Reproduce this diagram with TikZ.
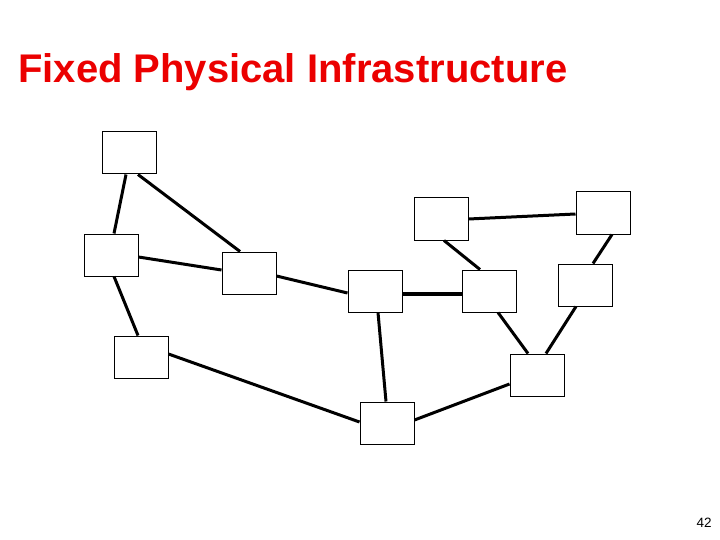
\documentclass[tikz,border=0pt]{standalone}
\usepackage{fontspec}
\setmainfont{Liberation Sans}
\definecolor{titlered}{RGB}{235,0,0}
\begin{document}
\begin{tikzpicture}[x=1pt,y=-1pt,
  box/.style={draw=black,line width=1pt,fill=white,minimum width=54pt,minimum height=42pt,inner sep=0pt},
  link/.style={line width=3pt,black}]
\useasboundingbox (0,0) rectangle (720,540);
\node[anchor=base west,inner sep=0pt,text=titlered,font=\bfseries\fontsize{40}{48}\selectfont] (title) at (18,83) {Fixed Physical Infrastructure};
\node[anchor=base,inner sep=0pt,font=\fontsize{13.5}{16}\selectfont] (pg) at (704,527) {42};
\node[box] (n1) at (129,153) {};
\node[box] (n2) at (111,255) {};
\node[box] (n3) at (249,273) {};
\node[box] (n4) at (141,357) {};
\node[box] (n5) at (375,291) {};
\node[box] (n6) at (441,219) {};
\node[box] (n7) at (489,291) {};
\node[box] (n8) at (603,213) {};
\node[box] (n9) at (585,285) {};
\node[box] (n10) at (537,375) {};
\node[box] (n11) at (387,423) {};
\draw[link] ([xshift=-3pt]n1.south) -- ([xshift=3pt]n2.north);
\draw[link] ([xshift=9pt]n1.south) -- ([xshift=-9pt]n3.north);
\draw[link] ([yshift=-2pt]n2.east) -- ([yshift=3pt]n3.west);
\draw[link] ([xshift=3pt]n2.south) -- ([xshift=-3pt]n4.north);
\draw[link] ([yshift=-3pt]n3.east) -- ([yshift=-2pt]n5.west);
\draw[link,line width=4pt] ([yshift=-3pt]n5.east) -- ([yshift=-3pt]n7.west);
\draw[link] ([xshift=3pt]n5.south) -- ([xshift=-1pt]n11.north);
\draw[link] ([yshift=3pt]n4.east) -- ([yshift=1pt]n11.west);
\draw[link] ([xshift=3pt]n6.south) -- ([xshift=-9pt]n7.north);
\draw[link] (n6.east) -- ([yshift=-1pt]n8.west);
\draw[link] ([xshift=9pt]n8.south) -- ([xshift=8pt]n9.north);
\draw[link] ([xshift=9pt]n7.south) -- ([xshift=-9pt]n10.north);
\draw[link] ([xshift=-9pt]n9.south) -- ([xshift=9pt]n10.north);
\draw[link] ([yshift=-9pt]n10.west) -- ([yshift=3pt]n11.east);
\end{tikzpicture}
\end{document}
